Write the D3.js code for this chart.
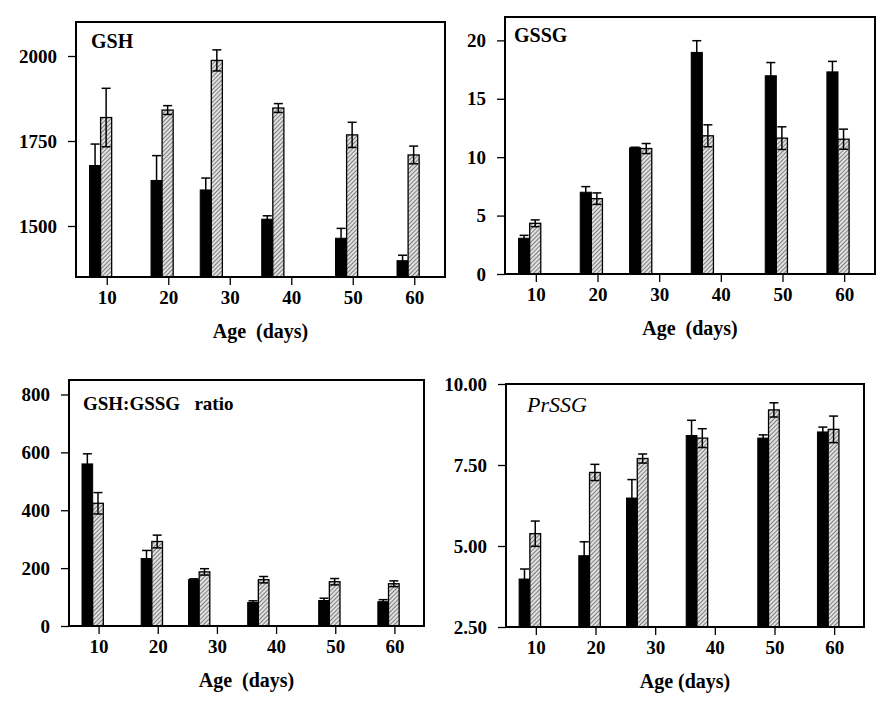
<!DOCTYPE html>
<html>
<head>
<meta charset="utf-8">
<script src="https://cdn.jsdelivr.net/npm/d3@7"></script>
<style>
  html, body { margin: 0; padding: 0; background: #fff; }
  svg { display: block; }
  text { font-family: "Liberation Serif", "Times New Roman", serif; }
</style>
</head>
<body>
<svg id="chart" width="887" height="701"></svg>
<script>
// ---- data ----
const ages = [9, 19, 27, 37, 49, 59];
const xTicks = [10, 20, 30, 40, 50, 60];

const gshCtrl = [1678, 1634, 1606, 1520, 1464, 1398];
const gshCtrlErr = [63, 73, 35, 10, 29, 16];
const gshTrt = [1819, 1841, 1987, 1847, 1768, 1709];
const gshTrtErr = [86, 13, 31, 13, 37, 26];
const gshTicks = [1500, 1750, 2000];

const gssgCtrl = [3.06, 7.0, 10.8, 18.97, 16.97, 17.3];
const gssgCtrlErr = [0.25, 0.48, 0.05, 1.0, 1.13, 0.9];
const gssgTrt = [4.34, 6.45, 10.74, 11.83, 11.63, 11.54];
const gssgTrtErr = [0.29, 0.49, 0.43, 0.94, 0.97, 0.86];
const gssgTicks = [0, 5, 10, 15, 20];

const ratioCtrl = [560, 233, 160, 81, 88, 84];
const ratioCtrlErr = [35, 28, 3, 6, 8, 7];
const ratioTrt = [424, 292, 187, 160, 153, 146];
const ratioTrtErr = [37, 22, 11, 11, 11, 10];
const ratioTicks = [0, 200, 400, 600, 800];

const prssgCtrl = [3.98, 4.70, 6.48, 8.41, 8.33, 8.52];
const prssgCtrlErr = [0.31, 0.43, 0.57, 0.47, 0.10, 0.15];
const prssgTrt = [5.38, 7.27, 7.70, 8.33, 9.20, 8.60];
const prssgTrtErr = [0.39, 0.25, 0.14, 0.29, 0.22, 0.41];
const prssgTicks = [2.5, 5, 7.5, 10];

// ---- layout ----
const panels = [
  { title: "GSH", italic: false, titleSize: 20, tdx: 15, tdy: 26,
    ctrl: gshCtrl, ctrlErr: gshCtrlErr, trt: gshTrt, trtErr: gshTrtErr,
    yTicks: gshTicks, yDomain: [1350, 2100], fmt: d3.format("d"),
    x0: 76, x1: 445, y0: 22, y1: 277, xlabel: "Age  (days)" },
  { title: "GSSG", italic: false, titleSize: 20, tdx: 9, tdy: 25,
    ctrl: gssgCtrl, ctrlErr: gssgCtrlErr, trt: gssgTrt, trtErr: gssgTrtErr,
    yTicks: gssgTicks, yDomain: [0, 22], fmt: d3.format("d"),
    x0: 505, x1: 875, y0: 17, y1: 274, xlabel: "Age  (days)" },
  { title: "GSH:GSSG   ratio", italic: false, titleSize: 19, tdx: 14, tdy: 30,
    ctrl: ratioCtrl, ctrlErr: ratioCtrlErr, trt: ratioTrt, trtErr: ratioTrtErr,
    yTicks: ratioTicks, yDomain: [0, 850], fmt: d3.format("d"),
    x0: 69, x1: 424, y0: 380, y1: 626, xlabel: "Age  (days)" },
  { title: "PrSSG", italic: true, titleSize: 22, tdx: 21, tdy: 28,
    ctrl: prssgCtrl, ctrlErr: prssgCtrlErr, trt: prssgTrt, trtErr: prssgTrtErr,
    yTicks: prssgTicks, yDomain: [2.5, 10], fmt: d3.format(".2f"),
    x0: 506, x1: 864, y0: 384, y1: 627, xlabel: "Age (days)" }
];

const svg = d3.select("#chart");
const defs = svg.append("defs");
const pat = defs.append("pattern")
  .attr("id", "hatch").attr("patternUnits", "userSpaceOnUse")
  .attr("width", 3).attr("height", 3)
  .attr("patternTransform", "rotate(45)");
pat.append("rect").attr("width", 3).attr("height", 3).attr("fill", "#e0e0e0");
pat.append("line").attr("x1", 0).attr("y1", 0).attr("x2", 0).attr("y2", 3)
  .attr("stroke", "#4a4a4a").attr("stroke-width", 1.3);

const barW = 1.8; // in age units

panels.forEach(p => {
  const g = svg.append("g");
  const x = d3.scaleLinear().domain([5, 65]).range([p.x0, p.x1]);
  const y = d3.scaleLinear().domain(p.yDomain).range([p.y1, p.y0]);

  // axes
  const xa = g.append("g").attr("transform", `translate(0,${p.y1})`)
    .call(d3.axisBottom(x).tickValues(xTicks).tickSize(8).tickPadding(6).tickFormat(d3.format("d")));
  const ya = g.append("g").attr("transform", `translate(${p.x0},0)`)
    .call(d3.axisLeft(y).tickValues(p.yTicks).tickSize(8).tickPadding(11).tickFormat(p.fmt));
  [xa, ya].forEach(a => {
    a.attr("font-family", null);
    a.select(".domain").remove();
    a.selectAll("line").attr("stroke", "#000").attr("stroke-width", 1.3);
    a.selectAll("text").attr("font-size", 19).attr("font-weight", "bold")
      .attr("fill", "#000").attr("font-family", "Liberation Serif, serif");
  });

  const base = y(p.yDomain[0]);
  const rows = ages.map((a, i) => ({ a, c: p.ctrl[i], ce: p.ctrlErr[i], t: p.trt[i], te: p.trtErr[i] }));

  // control (black) bars
  g.selectAll(".cbar").data(rows).join("rect")
    .attr("x", d => x(d.a - barW)).attr("width", d => x(d.a) - x(d.a - barW))
    .attr("y", d => y(d.c)).attr("height", d => base - y(d.c))
    .attr("fill", "#000").attr("stroke", "#000").attr("stroke-width", 1);
  // treated (hatched) bars
  g.selectAll(".tbar").data(rows).join("rect")
    .attr("x", d => x(d.a)).attr("width", d => x(d.a + barW) - x(d.a))
    .attr("y", d => y(d.t)).attr("height", d => base - y(d.t))
    .attr("fill", "url(#hatch)").attr("stroke", "#000").attr("stroke-width", 1.3);

  // error bars
  const capHalf = 4.5;
  function errBars(key, ekey, cx) {
    const eg = g.append("g").attr("stroke", "#000").attr("stroke-width", 1.5);
    rows.forEach(d => {
      const xc = cx(d);
      const yt = y(d[key] + d[ekey]), yb = y(d[key] - d[ekey]);
      eg.append("line").attr("x1", xc).attr("x2", xc).attr("y1", yt).attr("y2", yb);
      eg.append("line").attr("x1", xc - capHalf).attr("x2", xc + capHalf).attr("y1", yt).attr("y2", yt);
      eg.append("line").attr("x1", xc - capHalf).attr("x2", xc + capHalf).attr("y1", yb).attr("y2", yb);
    });
  }
  errBars("c", "ce", d => x(d.a - barW / 2));
  errBars("t", "te", d => x(d.a + barW / 2));

  // frame
  g.append("rect").attr("x", p.x0).attr("y", p.y0)
    .attr("width", p.x1 - p.x0).attr("height", p.y1 - p.y0)
    .attr("fill", "none").attr("stroke", "#000").attr("stroke-width", 2);

  // title
  g.append("text").attr("x", p.x0 + p.tdx).attr("y", p.y0 + p.tdy)
    .attr("font-size", p.titleSize)
    .attr("font-weight", p.italic ? "normal" : "bold")
    .attr("font-style", p.italic ? "italic" : "normal")
    .style("white-space", "pre")
    .text(p.title);

  // x label
  g.append("text").attr("x", (p.x0 + p.x1) / 2).attr("y", p.y1 + 61)
    .attr("text-anchor", "middle").attr("font-size", 20).attr("font-weight", "bold")
    .style("white-space", "pre")
    .text(p.xlabel);
});
</script>
</body>
</html>
